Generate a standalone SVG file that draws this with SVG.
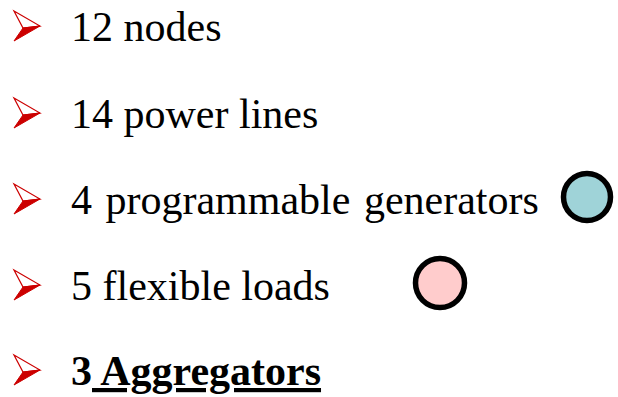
<svg xmlns="http://www.w3.org/2000/svg" xmlns:xlink="http://www.w3.org/1999/xlink" width="618" height="397" viewBox="0 0 618 397">
  <style>
    .txt { font-family: 'Liberation Serif', 'Times New Roman', serif; font-size: 42px; fill: #000; }
    .bold { font-weight: bold; }
    .arrow-top { fill: #fff; stroke: #cc0000; stroke-width: 1.2; stroke-linejoin: miter; }
    .arrow-bot { fill: #cc0000; stroke: #cc0000; stroke-width: 1; }
    .node { stroke: #000; stroke-width: 5.5; }
  </style>
  <defs>
    <!-- bullet arrowhead, tip at (26,15), baseline at y=30 -->
    <g id="bullet">
      <polygon class="arrow-top" points="0,0 26,15 9,17"/>
      <polygon class="arrow-bot" points="9,17 26,15 0,30"/>
    </g>
  </defs>

  <g id="item-nodes">
    <use xlink:href="#bullet" x="14" y="11"/>
    <text class="txt" font-family="Liberation Serif" x="71" y="41">12 nodes</text>
  </g>

  <g id="item-lines">
    <use xlink:href="#bullet" x="14" y="98"/>
    <text class="txt" font-family="Liberation Serif" x="71" y="128">14 power lines</text>
  </g>

  <g id="item-generators">
    <use xlink:href="#bullet" x="14" y="184"/>
    <text class="txt" font-family="Liberation Serif" x="71" y="214" word-spacing="3">4 programmable generators</text>
    <circle class="node" cx="587" cy="197" r="23.5" fill="#9fd3d8"/>
  </g>

  <g id="item-loads">
    <use xlink:href="#bullet" x="14" y="270"/>
    <text class="txt" font-family="Liberation Serif" x="71" y="300">5 flexible loads</text>
    <circle class="node" cx="440" cy="283" r="24.5" fill="#ffcccc"/>
  </g>

  <g id="item-aggregators">
    <use xlink:href="#bullet" x="14" y="355"/>
    <text class="txt bold" font-family="Liberation Serif" x="71" y="385">3<tspan text-decoration="underline"> Aggregators</tspan></text>
  </g>
</svg>
